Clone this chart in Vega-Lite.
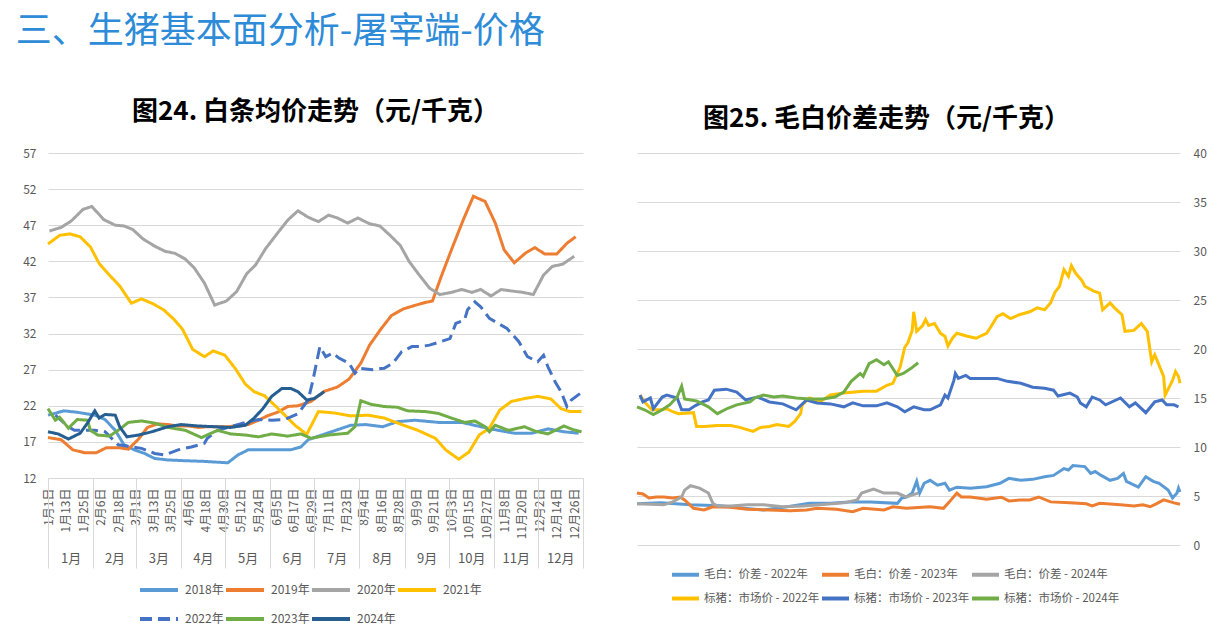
{
"$schema": "https://vega.github.io/schema/vega-lite/v6.json",
"background": "white",
"padding": {"left": 15, "top": 14, "right": 5, "bottom": 0},
"title": {"text": "三、生猪基本面分析-屠宰端-价格", "anchor": "start", "fontSize": 36, "fontWeight": "normal", "color": "#2E8BD7", "font": "Noto Sans CJK SC", "offset": 48, "dx": -7},
"config": {
  "font": "Noto Sans CJK SC",
  "view": {"stroke": null},
  "axis": {"labelColor": "#595959", "labelFontSize": 12, "gridColor": "#D9D9D9", "domainColor": "#D9D9D9", "tickColor": "#D9D9D9", "labelFont": "Noto Sans CJK SC"},
  "legend": {"labelColor": "#595959", "labelFontSize": 12, "labelFont": "Noto Sans CJK SC"}
},
"spacing": 54,
"bounds": "flush",
"resolve": {"scale": {"color": "independent", "strokeDash": "independent"}, "legend": {"color": "independent", "strokeDash": "independent"}},
"datasets": {
"left": [
{"s":"2018年","d":0,"v":20.7},{"s":"2018年","d":11,"v":21.3},{"s":"2018年","d":20,"v":21.1},{"s":"2018年","d":32,"v":20.7},{"s":"2018年","d":39,"v":20.1},{"s":"2018年","d":46,"v":18.6},{"s":"2018年","d":52,"v":16.6},{"s":"2018年","d":59,"v":15.9},{"s":"2018年","d":66,"v":15.4},{"s":"2018年","d":73,"v":14.7},{"s":"2018年","d":82,"v":14.5},{"s":"2018年","d":93,"v":14.4},{"s":"2018年","d":107,"v":14.3},{"s":"2018年","d":123,"v":14.1},{"s":"2018年","d":130,"v":15.2},{"s":"2018年","d":137,"v":15.9},{"s":"2018年","d":146,"v":15.9},{"s":"2018年","d":160,"v":15.9},{"s":"2018年","d":166,"v":15.9},{"s":"2018年","d":173,"v":16.3},{"s":"2018年","d":178,"v":17.3},{"s":"2018年","d":185,"v":17.8},{"s":"2018年","d":194,"v":18.4},{"s":"2018年","d":207,"v":19.3},{"s":"2018年","d":217,"v":19.4},{"s":"2018年","d":229,"v":19.1},{"s":"2018年","d":239,"v":19.8},{"s":"2018年","d":251,"v":20.0},{"s":"2018年","d":267,"v":19.7},{"s":"2018年","d":283,"v":19.7},{"s":"2018年","d":296,"v":19.1},{"s":"2018年","d":308,"v":18.6},{"s":"2018年","d":319,"v":18.2},{"s":"2018年","d":331,"v":18.2},{"s":"2018年","d":342,"v":18.8},{"s":"2018年","d":353,"v":18.4},{"s":"2018年","d":363,"v":18.2},
{"s":"2019年","d":0,"v":17.6},{"s":"2019年","d":9,"v":17.3},{"s":"2019年","d":17,"v":15.9},{"s":"2019年","d":25,"v":15.5},{"s":"2019年","d":33,"v":15.5},{"s":"2019年","d":40,"v":16.2},{"s":"2019年","d":48,"v":16.2},{"s":"2019年","d":55,"v":16.0},{"s":"2019年","d":62,"v":17.4},{"s":"2019年","d":68,"v":19.0},{"s":"2019年","d":75,"v":19.5},{"s":"2019年","d":82,"v":19.4},{"s":"2019年","d":89,"v":19.2},{"s":"2019年","d":96,"v":19.2},{"s":"2019年","d":103,"v":19.0},{"s":"2019年","d":109,"v":19.1},{"s":"2019年","d":123,"v":19.1},{"s":"2019年","d":137,"v":19.4},{"s":"2019年","d":144,"v":20.0},{"s":"2019年","d":150,"v":20.6},{"s":"2019年","d":157,"v":21.1},{"s":"2019年","d":164,"v":21.9},{"s":"2019年","d":171,"v":22.0},{"s":"2019年","d":180,"v":22.6},{"s":"2019年","d":189,"v":24.0},{"s":"2019年","d":198,"v":24.6},{"s":"2019年","d":206,"v":25.7},{"s":"2019年","d":214,"v":27.9},{"s":"2019年","d":220,"v":30.4},{"s":"2019年","d":228,"v":32.7},{"s":"2019年","d":235,"v":34.5},{"s":"2019年","d":243,"v":35.4},{"s":"2019年","d":251,"v":35.9},{"s":"2019年","d":258,"v":36.3},{"s":"2019年","d":263,"v":36.5},{"s":"2019年","d":269,"v":39.9},{"s":"2019年","d":276,"v":43.6},{"s":"2019年","d":284,"v":47.7},{"s":"2019年","d":291,"v":51.0},{"s":"2019年","d":299,"v":50.3},{"s":"2019年","d":306,"v":47.3},{"s":"2019年","d":312,"v":43.6},{"s":"2019年","d":319,"v":41.8},{"s":"2019年","d":327,"v":43.2},{"s":"2019年","d":333,"v":43.9},{"s":"2019年","d":340,"v":43.0},{"s":"2019年","d":348,"v":43.0},{"s":"2019年","d":355,"v":44.5},{"s":"2019年","d":361,"v":45.4},
{"s":"2020年","d":1,"v":46.2},{"s":"2020年","d":9,"v":46.7},{"s":"2020年","d":16,"v":47.6},{"s":"2020年","d":24,"v":49.2},{"s":"2020年","d":30,"v":49.6},{"s":"2020年","d":38,"v":47.8},{"s":"2020年","d":46,"v":47.0},{"s":"2020年","d":52,"v":46.9},{"s":"2020年","d":58,"v":46.4},{"s":"2020年","d":65,"v":45.1},{"s":"2020年","d":73,"v":44.1},{"s":"2020年","d":80,"v":43.4},{"s":"2020年","d":87,"v":43.1},{"s":"2020年","d":94,"v":42.3},{"s":"2020年","d":100,"v":41.1},{"s":"2020年","d":107,"v":39.0},{"s":"2020年","d":114,"v":35.95},{"s":"2020年","d":122,"v":36.5},{"s":"2020年","d":129,"v":37.8},{"s":"2020年","d":136,"v":40.3},{"s":"2020年","d":142,"v":41.5},{"s":"2020年","d":149,"v":43.8},{"s":"2020年","d":157,"v":45.9},{"s":"2020年","d":164,"v":47.7},{"s":"2020年","d":171,"v":49.0},{"s":"2020年","d":178,"v":48.1},{"s":"2020年","d":185,"v":47.5},{"s":"2020年","d":192,"v":48.4},{"s":"2020年","d":198,"v":48.0},{"s":"2020年","d":205,"v":47.3},{"s":"2020年","d":212,"v":48.0},{"s":"2020年","d":220,"v":47.2},{"s":"2020年","d":227,"v":46.9},{"s":"2020年","d":234,"v":45.6},{"s":"2020年","d":241,"v":44.2},{"s":"2020年","d":247,"v":42.0},{"s":"2020年","d":254,"v":40.1},{"s":"2020年","d":261,"v":38.3},{"s":"2020年","d":268,"v":37.4},{"s":"2020年","d":276,"v":37.7},{"s":"2020年","d":283,"v":38.1},{"s":"2020年","d":290,"v":37.7},{"s":"2020年","d":296,"v":38.1},{"s":"2020年","d":303,"v":37.2},{"s":"2020年","d":310,"v":38.1},{"s":"2020年","d":317,"v":37.9},{"s":"2020年","d":325,"v":37.7},{"s":"2020年","d":332,"v":37.4},{"s":"2020年","d":339,"v":40.1},{"s":"2020年","d":345,"v":41.3},{"s":"2020年","d":352,"v":41.6},{"s":"2020年","d":360,"v":42.7},
{"s":"2021年","d":0,"v":44.4},{"s":"2021年","d":8,"v":45.6},{"s":"2021年","d":15,"v":45.8},{"s":"2021年","d":22,"v":45.4},{"s":"2021年","d":29,"v":44.0},{"s":"2021年","d":35,"v":41.7},{"s":"2021年","d":42,"v":40.1},{"s":"2021年","d":49,"v":38.6},{"s":"2021年","d":57,"v":36.2},{"s":"2021年","d":64,"v":36.8},{"s":"2021年","d":72,"v":36.1},{"s":"2021年","d":79,"v":35.3},{"s":"2021年","d":86,"v":34.0},{"s":"2021年","d":92,"v":32.6},{"s":"2021年","d":99,"v":29.8},{"s":"2021年","d":107,"v":28.8},{"s":"2021年","d":113,"v":29.6},{"s":"2021年","d":121,"v":29.0},{"s":"2021年","d":128,"v":27.2},{"s":"2021年","d":135,"v":25.0},{"s":"2021年","d":141,"v":23.95},{"s":"2021年","d":148,"v":23.4},{"s":"2021年","d":155,"v":22.1},{"s":"2021年","d":162,"v":20.7},{"s":"2021年","d":169,"v":19.3},{"s":"2021年","d":177,"v":18.05},{"s":"2021年","d":185,"v":21.2},{"s":"2021年","d":196,"v":21.0},{"s":"2021年","d":207,"v":20.6},{"s":"2021年","d":219,"v":20.7},{"s":"2021年","d":230,"v":20.3},{"s":"2021年","d":242,"v":19.4},{"s":"2021年","d":253,"v":18.6},{"s":"2021年","d":265,"v":17.5},{"s":"2021年","d":272,"v":15.9},{"s":"2021年","d":281,"v":14.6},{"s":"2021年","d":288,"v":15.6},{"s":"2021年","d":295,"v":17.95},{"s":"2021年","d":302,"v":18.9},{"s":"2021年","d":309,"v":21.4},{"s":"2021年","d":317,"v":22.6},{"s":"2021年","d":326,"v":23.0},{"s":"2021年","d":335,"v":23.3},{"s":"2021年","d":344,"v":22.95},{"s":"2021年","d":351,"v":21.6},{"s":"2021年","d":357,"v":21.2},{"s":"2021年","d":365,"v":21.2},
{"s":"2022年","d":5,"v":20.7},{"s":"2022年","d":14,"v":19.1},{"s":"2022年","d":18,"v":18.6},{"s":"2022年","d":32,"v":18.6},{"s":"2022年","d":39,"v":18.4},{"s":"2022年","d":48,"v":16.6},{"s":"2022年","d":64,"v":16.1},{"s":"2022年","d":73,"v":15.4},{"s":"2022年","d":80,"v":15.2},{"s":"2022年","d":89,"v":15.9},{"s":"2022年","d":98,"v":16.3},{"s":"2022年","d":107,"v":16.8},{"s":"2022年","d":109,"v":17.5},{"s":"2022年","d":116,"v":18.6},{"s":"2022年","d":125,"v":19.1},{"s":"2022年","d":135,"v":19.7},{"s":"2022年","d":144,"v":20.1},{"s":"2022年","d":153,"v":20.0},{"s":"2022年","d":162,"v":20.1},{"s":"2022年","d":171,"v":20.9},{"s":"2022年","d":178,"v":22.8},{"s":"2022年","d":181,"v":25.3},{"s":"2022年","d":186,"v":30.2},{"s":"2022年","d":190,"v":28.8},{"s":"2022年","d":195,"v":29.3},{"s":"2022年","d":199,"v":28.6},{"s":"2022年","d":206,"v":27.9},{"s":"2022年","d":210,"v":26.5},{"s":"2022年","d":213,"v":27.2},{"s":"2022年","d":222,"v":27.0},{"s":"2022年","d":230,"v":27.2},{"s":"2022年","d":236,"v":27.9},{"s":"2022年","d":242,"v":29.5},{"s":"2022年","d":249,"v":30.2},{"s":"2022年","d":255,"v":30.2},{"s":"2022年","d":261,"v":30.4},{"s":"2022年","d":269,"v":30.9},{"s":"2022年","d":275,"v":31.3},{"s":"2022年","d":279,"v":33.4},{"s":"2022年","d":285,"v":33.9},{"s":"2022年","d":287,"v":35.3},{"s":"2022年","d":292,"v":36.4},{"s":"2022年","d":296,"v":35.7},{"s":"2022年","d":302,"v":34.1},{"s":"2022年","d":308,"v":33.4},{"s":"2022年","d":314,"v":32.7},{"s":"2022年","d":318,"v":31.8},{"s":"2022年","d":322,"v":30.9},{"s":"2022年","d":328,"v":28.8},{"s":"2022年","d":335,"v":28.1},{"s":"2022年","d":339,"v":29.0},{"s":"2022年","d":342,"v":27.4},{"s":"2022年","d":347,"v":25.3},{"s":"2022年","d":351,"v":23.95},{"s":"2022年","d":355,"v":21.9},{"s":"2022年","d":358,"v":22.8},{"s":"2022年","d":364,"v":23.7},
{"s":"2023年","d":0,"v":21.6},{"s":"2023年","d":5,"v":20.0},{"s":"2023年","d":8,"v":20.4},{"s":"2023年","d":14,"v":18.9},{"s":"2023年","d":20,"v":20.1},{"s":"2023年","d":27,"v":20.0},{"s":"2023年","d":29,"v":18.6},{"s":"2023年","d":34,"v":17.95},{"s":"2023年","d":42,"v":17.8},{"s":"2023年","d":48,"v":18.6},{"s":"2023年","d":55,"v":19.7},{"s":"2023年","d":64,"v":19.9},{"s":"2023年","d":73,"v":19.6},{"s":"2023年","d":82,"v":19.0},{"s":"2023年","d":94,"v":18.6},{"s":"2023年","d":105,"v":17.6},{"s":"2023年","d":116,"v":18.6},{"s":"2023年","d":125,"v":18.1},{"s":"2023年","d":135,"v":17.95},{"s":"2023年","d":144,"v":17.7},{"s":"2023年","d":153,"v":18.1},{"s":"2023年","d":164,"v":17.8},{"s":"2023年","d":173,"v":18.1},{"s":"2023年","d":180,"v":17.5},{"s":"2023年","d":192,"v":17.95},{"s":"2023年","d":205,"v":18.2},{"s":"2023年","d":210,"v":19.1},{"s":"2023年","d":214,"v":22.7},{"s":"2023年","d":221,"v":22.2},{"s":"2023年","d":230,"v":21.9},{"s":"2023年","d":239,"v":21.8},{"s":"2023年","d":246,"v":21.3},{"s":"2023年","d":258,"v":21.2},{"s":"2023年","d":267,"v":20.95},{"s":"2023年","d":276,"v":20.3},{"s":"2023年","d":285,"v":19.7},{"s":"2023年","d":292,"v":19.9},{"s":"2023年","d":299,"v":19.1},{"s":"2023年","d":302,"v":18.4},{"s":"2023年","d":306,"v":19.3},{"s":"2023年","d":315,"v":18.6},{"s":"2023年","d":326,"v":19.1},{"s":"2023年","d":333,"v":18.5},{"s":"2023年","d":342,"v":18.1},{"s":"2023年","d":347,"v":18.6},{"s":"2023年","d":353,"v":19.2},{"s":"2023年","d":359,"v":18.7},{"s":"2023年","d":365,"v":18.4},
{"s":"2024年","d":0,"v":18.4},{"s":"2024年","d":7,"v":18.1},{"s":"2024年","d":14,"v":17.4},{"s":"2024年","d":22,"v":18.2},{"s":"2024年","d":27,"v":19.6},{"s":"2024年","d":32,"v":21.3},{"s":"2024年","d":35,"v":20.3},{"s":"2024年","d":39,"v":20.8},{"s":"2024年","d":46,"v":20.7},{"s":"2024年","d":49,"v":19.1},{"s":"2024年","d":54,"v":17.7},{"s":"2024年","d":62,"v":17.95},{"s":"2024年","d":71,"v":18.4},{"s":"2024年","d":82,"v":19.1},{"s":"2024年","d":91,"v":19.4},{"s":"2024年","d":103,"v":19.2},{"s":"2024年","d":114,"v":19.1},{"s":"2024年","d":125,"v":19.0},{"s":"2024年","d":135,"v":19.3},{"s":"2024年","d":141,"v":20.3},{"s":"2024年","d":147,"v":21.6},{"s":"2024年","d":153,"v":23.3},{"s":"2024年","d":160,"v":24.4},{"s":"2024年","d":166,"v":24.4},{"s":"2024年","d":171,"v":23.95},{"s":"2024年","d":177,"v":22.8},{"s":"2024年","d":182,"v":23.0},{"s":"2024年","d":189,"v":23.95}
],
"right": [
{"k":"毛白：价差 - 2022年","d":0,"v":4.2},{"k":"毛白：价差 - 2022年","d":16,"v":4.3},{"k":"毛白：价差 - 2022年","d":36,"v":4.1},{"k":"毛白：价差 - 2022年","d":56,"v":4.0},{"k":"毛白：价差 - 2022年","d":72,"v":3.74},{"k":"毛白：价差 - 2022年","d":85,"v":3.57},{"k":"毛白：价差 - 2022年","d":101,"v":3.9},{"k":"毛白：价差 - 2022年","d":116,"v":4.25},{"k":"毛白：价差 - 2022年","d":130,"v":4.25},{"k":"毛白：价差 - 2022年","d":143,"v":4.4},{"k":"毛白：价差 - 2022年","d":157,"v":4.4},{"k":"毛白：价差 - 2022年","d":175,"v":4.25},{"k":"毛白：价差 - 2022年","d":178,"v":4.8},{"k":"毛白：价差 - 2022年","d":181,"v":4.9},{"k":"毛白：价差 - 2022年","d":185,"v":5.3},{"k":"毛白：价差 - 2022年","d":188,"v":6.5},{"k":"毛白：价差 - 2022年","d":190,"v":5.3},{"k":"毛白：价差 - 2022年","d":193,"v":6.3},{"k":"毛白：价差 - 2022年","d":197,"v":6.6},{"k":"毛白：价差 - 2022年","d":202,"v":6.1},{"k":"毛白：价差 - 2022年","d":207,"v":6.3},{"k":"毛白：价差 - 2022年","d":210,"v":5.6},{"k":"毛白：价差 - 2022年","d":215,"v":5.9},{"k":"毛白：价差 - 2022年","d":224,"v":5.8},{"k":"毛白：价差 - 2022年","d":235,"v":5.95},{"k":"毛白：价差 - 2022年","d":244,"v":6.3},{"k":"毛白：价差 - 2022年","d":250,"v":6.8},{"k":"毛白：价差 - 2022年","d":258,"v":6.6},{"k":"毛白：价差 - 2022年","d":266,"v":6.7},{"k":"毛白：价差 - 2022年","d":274,"v":6.97},{"k":"毛白：价差 - 2022年","d":280,"v":7.1},{"k":"毛白：价差 - 2022年","d":287,"v":7.8},{"k":"毛白：价差 - 2022年","d":290,"v":7.65},{"k":"毛白：价差 - 2022年","d":293,"v":8.1},{"k":"毛白：价差 - 2022年","d":301,"v":8.0},{"k":"毛白：价差 - 2022年","d":305,"v":7.3},{"k":"毛白：价差 - 2022年","d":308,"v":7.5},{"k":"毛白：价差 - 2022年","d":312,"v":7.1},{"k":"毛白：价差 - 2022年","d":318,"v":6.6},{"k":"毛白：价差 - 2022年","d":323,"v":6.8},{"k":"毛白：价差 - 2022年","d":327,"v":7.3},{"k":"毛白：价差 - 2022年","d":329,"v":6.5},{"k":"毛白：价差 - 2022年","d":337,"v":5.9},{"k":"毛白：价差 - 2022年","d":342,"v":6.97},{"k":"毛白：价差 - 2022年","d":347,"v":6.5},{"k":"毛白：价差 - 2022年","d":351,"v":6.3},{"k":"毛白：价差 - 2022年","d":357,"v":5.6},{"k":"毛白：价差 - 2022年","d":360,"v":4.8},{"k":"毛白：价差 - 2022年","d":363,"v":5.3},{"k":"毛白：价差 - 2022年","d":364,"v":5.8},{"k":"毛白：价差 - 2022年","d":365,"v":5.4},
{"k":"毛白：价差 - 2023年","d":0,"v":5.3},{"k":"毛白：价差 - 2023年","d":4,"v":5.2},{"k":"毛白：价差 - 2023年","d":8,"v":4.8},{"k":"毛白：价差 - 2023年","d":13,"v":4.9},{"k":"毛白：价差 - 2023年","d":18,"v":4.9},{"k":"毛白：价差 - 2023年","d":24,"v":4.8},{"k":"毛白：价差 - 2023年","d":29,"v":4.9},{"k":"毛白：价差 - 2023年","d":32,"v":4.6},{"k":"毛白：价差 - 2023年","d":38,"v":3.74},{"k":"毛白：价差 - 2023年","d":45,"v":3.57},{"k":"毛白：价差 - 2023年","d":51,"v":3.9},{"k":"毛白：价差 - 2023年","d":63,"v":3.84},{"k":"毛白：价差 - 2023年","d":74,"v":3.64},{"k":"毛白：价差 - 2023年","d":89,"v":3.57},{"k":"毛白：价差 - 2023年","d":103,"v":3.5},{"k":"毛白：价差 - 2023年","d":114,"v":3.57},{"k":"毛白：价差 - 2023年","d":121,"v":3.74},{"k":"毛白：价差 - 2023年","d":134,"v":3.64},{"k":"毛白：价差 - 2023年","d":145,"v":3.4},{"k":"毛白：价差 - 2023年","d":152,"v":3.74},{"k":"毛白：价差 - 2023年","d":166,"v":3.57},{"k":"毛白：价差 - 2023年","d":172,"v":3.9},{"k":"毛白：价差 - 2023年","d":181,"v":3.74},{"k":"毛白：价差 - 2023年","d":197,"v":3.9},{"k":"毛白：价差 - 2023年","d":206,"v":3.74},{"k":"毛白：价差 - 2023年","d":210,"v":4.4},{"k":"毛白：价差 - 2023年","d":215,"v":5.3},{"k":"毛白：价差 - 2023年","d":218,"v":4.9},{"k":"毛白：价差 - 2023年","d":224,"v":4.9},{"k":"毛白：价差 - 2023年","d":235,"v":4.66},{"k":"毛白：价差 - 2023年","d":245,"v":4.87},{"k":"毛白：价差 - 2023年","d":250,"v":4.5},{"k":"毛白：价差 - 2023年","d":258,"v":4.6},{"k":"毛白：价差 - 2023年","d":264,"v":4.6},{"k":"毛白：价差 - 2023年","d":270,"v":4.9},{"k":"毛白：价差 - 2023年","d":278,"v":4.4},{"k":"毛白：价差 - 2023年","d":291,"v":4.3},{"k":"毛白：价差 - 2023年","d":302,"v":4.2},{"k":"毛白：价差 - 2023年","d":306,"v":3.98},{"k":"毛白：价差 - 2023年","d":311,"v":4.25},{"k":"毛白：价差 - 2023年","d":325,"v":4.1},{"k":"毛白：价差 - 2023年","d":334,"v":3.98},{"k":"毛白：价差 - 2023年","d":340,"v":4.1},{"k":"毛白：价差 - 2023年","d":345,"v":3.9},{"k":"毛白：价差 - 2023年","d":349,"v":4.2},{"k":"毛白：价差 - 2023年","d":354,"v":4.6},{"k":"毛白：价差 - 2023年","d":361,"v":4.3},{"k":"毛白：价差 - 2023年","d":365,"v":4.15},
{"k":"毛白：价差 - 2024年","d":0,"v":4.2},{"k":"毛白：价差 - 2024年","d":9,"v":4.15},{"k":"毛白：价差 - 2024年","d":18,"v":4.1},{"k":"毛白：价差 - 2024年","d":24,"v":4.4},{"k":"毛白：价差 - 2024年","d":30,"v":4.9},{"k":"毛白：价差 - 2024年","d":32,"v":5.6},{"k":"毛白：价差 - 2024年","d":36,"v":6.05},{"k":"毛白：价差 - 2024年","d":42,"v":5.8},{"k":"毛白：价差 - 2024年","d":48,"v":5.3},{"k":"毛白：价差 - 2024年","d":51,"v":4.25},{"k":"毛白：价差 - 2024年","d":54,"v":3.98},{"k":"毛白：价差 - 2024年","d":63,"v":3.98},{"k":"毛白：价差 - 2024年","d":74,"v":4.1},{"k":"毛白：价差 - 2024年","d":85,"v":4.1},{"k":"毛白：价差 - 2024年","d":98,"v":3.9},{"k":"毛白：价差 - 2024年","d":112,"v":3.98},{"k":"毛白：价差 - 2024年","d":123,"v":4.1},{"k":"毛白：价差 - 2024年","d":139,"v":4.3},{"k":"毛白：价差 - 2024年","d":148,"v":4.6},{"k":"毛白：价差 - 2024年","d":151,"v":5.3},{"k":"毛白：价差 - 2024年","d":159,"v":5.7},{"k":"毛白：价差 - 2024年","d":166,"v":5.3},{"k":"毛白：价差 - 2024年","d":175,"v":5.3},{"k":"毛白：价差 - 2024年","d":181,"v":4.9},{"k":"毛白：价差 - 2024年","d":189,"v":5.3},
{"k":"标猪：市场价 - 2022年","d":2,"v":15.3},{"k":"标猪：市场价 - 2022年","d":5,"v":14.6},{"k":"标猪：市场价 - 2022年","d":10,"v":13.8},{"k":"标猪：市场价 - 2022年","d":16,"v":13.8},{"k":"标猪：市场价 - 2022年","d":20,"v":13.9},{"k":"标猪：市场价 - 2022年","d":24,"v":13.6},{"k":"标猪：市场价 - 2022年","d":28,"v":13.4},{"k":"标猪：市场价 - 2022年","d":38,"v":13.5},{"k":"标猪：市场价 - 2022年","d":40,"v":12.1},{"k":"标猪：市场价 - 2022年","d":45,"v":12.1},{"k":"标猪：市场价 - 2022年","d":54,"v":12.2},{"k":"标猪：市场价 - 2022年","d":63,"v":12.2},{"k":"标猪：市场价 - 2022年","d":69,"v":12.0},{"k":"标猪：市场价 - 2022年","d":78,"v":11.6},{"k":"标猪：市场价 - 2022年","d":83,"v":12.0},{"k":"标猪：市场价 - 2022年","d":89,"v":12.1},{"k":"标猪：市场价 - 2022年","d":94,"v":12.3},{"k":"标猪：市场价 - 2022年","d":102,"v":12.1},{"k":"标猪：市场价 - 2022年","d":106,"v":12.6},{"k":"标猪：市场价 - 2022年","d":110,"v":13.4},{"k":"标猪：市场价 - 2022年","d":111,"v":14.3},{"k":"标猪：市场价 - 2022年","d":116,"v":15.0},{"k":"标猪：市场价 - 2022年","d":123,"v":14.6},{"k":"标猪：市场价 - 2022年","d":130,"v":15.3},{"k":"标猪：市场价 - 2022年","d":139,"v":15.5},{"k":"标猪：市场价 - 2022年","d":152,"v":15.7},{"k":"标猪：市场价 - 2022年","d":161,"v":15.7},{"k":"标猪：市场价 - 2022年","d":168,"v":16.3},{"k":"标猪：市场价 - 2022年","d":172,"v":16.5},{"k":"标猪：市场价 - 2022年","d":177,"v":18.2},{"k":"标猪：市场价 - 2022年","d":180,"v":20.2},{"k":"标猪：市场价 - 2022年","d":182,"v":20.6},{"k":"标猪：市场价 - 2022年","d":185,"v":21.9},{"k":"标猪：市场价 - 2022年","d":186,"v":23.8},{"k":"标猪：市场价 - 2022年","d":188,"v":21.8},{"k":"标猪：市场价 - 2022年","d":192,"v":22.4},{"k":"标猪：市场价 - 2022年","d":194,"v":23.0},{"k":"标猪：市场价 - 2022年","d":196,"v":22.4},{"k":"标猪：市场价 - 2022年","d":200,"v":22.6},{"k":"标猪：市场价 - 2022年","d":204,"v":21.6},{"k":"标猪：市场价 - 2022年","d":207,"v":21.3},{"k":"标猪：市场价 - 2022年","d":209,"v":20.3},{"k":"标猪：市场价 - 2022年","d":212,"v":21.1},{"k":"标猪：市场价 - 2022年","d":215,"v":21.6},{"k":"标猪：市场价 - 2022年","d":222,"v":21.3},{"k":"标猪：市场价 - 2022年","d":228,"v":21.1},{"k":"标猪：市场价 - 2022年","d":232,"v":21.4},{"k":"标猪：市场价 - 2022年","d":235,"v":21.6},{"k":"标猪：市场价 - 2022年","d":238,"v":22.3},{"k":"标猪：市场价 - 2022年","d":242,"v":23.3},{"k":"标猪：市场价 - 2022年","d":246,"v":23.6},{"k":"标猪：市场价 - 2022年","d":251,"v":23.1},{"k":"标猪：市场价 - 2022年","d":257,"v":23.5},{"k":"标猪：市场价 - 2022年","d":264,"v":23.8},{"k":"标猪：市场价 - 2022年","d":269,"v":24.2},{"k":"标猪：市场价 - 2022年","d":274,"v":24.0},{"k":"标猪：市场价 - 2022年","d":278,"v":24.7},{"k":"标猪：市场价 - 2022年","d":281,"v":25.8},{"k":"标猪：市场价 - 2022年","d":284,"v":26.4},{"k":"标猪：市场价 - 2022年","d":287,"v":28.1},{"k":"标猪：市场价 - 2022年","d":290,"v":27.4},{"k":"标猪：市场价 - 2022年","d":292,"v":28.5},{"k":"标猪：市场价 - 2022年","d":295,"v":27.7},{"k":"标猪：市场价 - 2022年","d":299,"v":27.0},{"k":"标猪：市场价 - 2022年","d":301,"v":26.4},{"k":"标猪：市场价 - 2022年","d":307,"v":25.9},{"k":"标猪：市场价 - 2022年","d":311,"v":25.7},{"k":"标猪：市场价 - 2022年","d":313,"v":24.0},{"k":"标猪：市场价 - 2022年","d":318,"v":24.7},{"k":"标猪：市场价 - 2022年","d":321,"v":24.2},{"k":"标猪：市场价 - 2022年","d":326,"v":23.5},{"k":"标猪：市场价 - 2022年","d":328,"v":21.8},{"k":"标猪：市场价 - 2022年","d":334,"v":21.9},{"k":"标猪：市场价 - 2022年","d":339,"v":22.6},{"k":"标猪：市场价 - 2022年","d":343,"v":21.8},{"k":"标猪：市场价 - 2022年","d":346,"v":18.7},{"k":"标猪：市场价 - 2022年","d":348,"v":19.4},{"k":"标猪：市场价 - 2022年","d":350,"v":18.7},{"k":"标猪：市场价 - 2022年","d":354,"v":17.2},{"k":"标猪：市场价 - 2022年","d":355,"v":15.3},{"k":"标猪：市场价 - 2022年","d":360,"v":16.8},{"k":"标猪：市场价 - 2022年","d":362,"v":17.7},{"k":"标猪：市场价 - 2022年","d":364,"v":17.2},{"k":"标猪：市场价 - 2022年","d":365,"v":16.5},
{"k":"标猪：市场价 - 2023年","d":2,"v":15.3},{"k":"标猪：市场价 - 2023年","d":4,"v":14.6},{"k":"标猪：市场价 - 2023年","d":9,"v":15.0},{"k":"标猪：市场价 - 2023年","d":11,"v":13.9},{"k":"标猪：市场价 - 2023年","d":17,"v":15.1},{"k":"标猪：市场价 - 2023年","d":20,"v":15.3},{"k":"标猪：市场价 - 2023年","d":27,"v":15.0},{"k":"标猪：市场价 - 2023年","d":30,"v":13.8},{"k":"标猪：市场价 - 2023年","d":35,"v":13.8},{"k":"标猪：市场价 - 2023年","d":39,"v":14.2},{"k":"标猪：市场价 - 2023年","d":44,"v":14.6},{"k":"标猪：市场价 - 2023年","d":48,"v":14.8},{"k":"标猪：市场价 - 2023年","d":52,"v":15.8},{"k":"标猪：市场价 - 2023年","d":60,"v":15.9},{"k":"标猪：市场价 - 2023年","d":67,"v":15.6},{"k":"标猪：市场价 - 2023年","d":73,"v":14.8},{"k":"标猪：市场价 - 2023年","d":81,"v":15.1},{"k":"标猪：市场价 - 2023年","d":89,"v":14.6},{"k":"标猪：市场价 - 2023年","d":98,"v":14.4},{"k":"标猪：市场价 - 2023年","d":107,"v":13.8},{"k":"标猪：市场价 - 2023年","d":114,"v":14.8},{"k":"标猪：市场价 - 2023年","d":121,"v":14.5},{"k":"标猪：市场价 - 2023年","d":130,"v":14.4},{"k":"标猪：市场价 - 2023年","d":139,"v":14.1},{"k":"标猪：市场价 - 2023年","d":145,"v":14.5},{"k":"标猪：市场价 - 2023年","d":152,"v":14.2},{"k":"标猪：市场价 - 2023年","d":161,"v":14.2},{"k":"标猪：市场价 - 2023年","d":168,"v":14.5},{"k":"标猪：市场价 - 2023年","d":175,"v":14.1},{"k":"标猪：市场价 - 2023年","d":180,"v":13.6},{"k":"标猪：市场价 - 2023年","d":186,"v":14.1},{"k":"标猪：市场价 - 2023年","d":193,"v":13.8},{"k":"标猪：市场价 - 2023年","d":197,"v":13.8},{"k":"标猪：市场价 - 2023年","d":204,"v":14.3},{"k":"标猪：市场价 - 2023年","d":207,"v":15.3},{"k":"标猪：市场价 - 2023年","d":209,"v":15.0},{"k":"标猪：市场价 - 2023年","d":213,"v":16.8},{"k":"标猪：市场价 - 2023年","d":214,"v":17.5},{"k":"标猪：市场价 - 2023年","d":216,"v":17.0},{"k":"标猪：市场价 - 2023年","d":221,"v":17.3},{"k":"标猪：市场价 - 2023年","d":224,"v":17.0},{"k":"标猪：市场价 - 2023年","d":233,"v":17.0},{"k":"标猪：市场价 - 2023年","d":242,"v":17.0},{"k":"标猪：市场价 - 2023年","d":249,"v":16.7},{"k":"标猪：市场价 - 2023年","d":258,"v":16.5},{"k":"标猪：市场价 - 2023年","d":266,"v":16.1},{"k":"标猪：市场价 - 2023年","d":274,"v":16.0},{"k":"标猪：市场价 - 2023年","d":280,"v":15.8},{"k":"标猪：市场价 - 2023年","d":283,"v":15.2},{"k":"标猪：市场价 - 2023年","d":291,"v":15.5},{"k":"标猪：市场价 - 2023年","d":296,"v":15.1},{"k":"标猪：市场价 - 2023年","d":298,"v":14.5},{"k":"标猪：市场价 - 2023年","d":302,"v":14.1},{"k":"标猪：市场价 - 2023年","d":306,"v":15.1},{"k":"标猪：市场价 - 2023年","d":311,"v":14.8},{"k":"标猪：市场价 - 2023年","d":315,"v":14.3},{"k":"标猪：市场价 - 2023年","d":325,"v":15.0},{"k":"标猪：市场价 - 2023年","d":331,"v":14.1},{"k":"标猪：市场价 - 2023年","d":335,"v":14.5},{"k":"标猪：市场价 - 2023年","d":342,"v":13.5},{"k":"标猪：市场价 - 2023年","d":348,"v":14.6},{"k":"标猪：市场价 - 2023年","d":353,"v":14.8},{"k":"标猪：市场价 - 2023年","d":356,"v":14.3},{"k":"标猪：市场价 - 2023年","d":361,"v":14.3},{"k":"标猪：市场价 - 2023年","d":364,"v":14.1},
{"k":"标猪：市场价 - 2024年","d":0,"v":14.1},{"k":"标猪：市场价 - 2024年","d":5,"v":13.8},{"k":"标猪：市场价 - 2024年","d":11,"v":13.3},{"k":"标猪：市场价 - 2024年","d":17,"v":13.8},{"k":"标猪：市场价 - 2024年","d":22,"v":14.3},{"k":"标猪：市场价 - 2024年","d":27,"v":15.1},{"k":"标猪：市场价 - 2024年","d":30,"v":16.2},{"k":"标猪：市场价 - 2024年","d":32,"v":14.9},{"k":"标猪：市场价 - 2024年","d":40,"v":14.7},{"k":"标猪：市场价 - 2024年","d":48,"v":14.1},{"k":"标猪：市场价 - 2024年","d":54,"v":13.4},{"k":"标猪：市场价 - 2024年","d":61,"v":13.95},{"k":"标猪：市场价 - 2024年","d":67,"v":14.3},{"k":"标猪：市场价 - 2024年","d":76,"v":14.6},{"k":"标猪：市场价 - 2024年","d":79,"v":15.0},{"k":"标猪：市场价 - 2024年","d":85,"v":15.3},{"k":"标猪：市场价 - 2024年","d":92,"v":15.1},{"k":"标猪：市场价 - 2024年","d":98,"v":15.2},{"k":"标猪：市场价 - 2024年","d":107,"v":15.0},{"k":"标猪：市场价 - 2024年","d":116,"v":14.9},{"k":"标猪：市场价 - 2024年","d":125,"v":14.9},{"k":"标猪：市场价 - 2024年","d":133,"v":15.1},{"k":"标猪：市场价 - 2024年","d":139,"v":15.6},{"k":"标猪：市场价 - 2024年","d":144,"v":16.7},{"k":"标猪：市场价 - 2024年","d":150,"v":17.5},{"k":"标猪：市场价 - 2024年","d":152,"v":17.2},{"k":"标猪：市场价 - 2024年","d":156,"v":18.5},{"k":"标猪：市场价 - 2024年","d":161,"v":18.9},{"k":"标猪：市场价 - 2024年","d":166,"v":18.4},{"k":"标猪：市场价 - 2024年","d":169,"v":18.7},{"k":"标猪：市场价 - 2024年","d":175,"v":17.3},{"k":"标猪：市场价 - 2024年","d":179,"v":17.5},{"k":"标猪：市场价 - 2024年","d":184,"v":18.0},{"k":"标猪：市场价 - 2024年","d":189,"v":18.6}
]
},
"hconcat": [
{
  "width": 535,
  "height": 325,
  "data": {"name": "left"},
  "title": {"text": "图24. 白条均价走势（元/千克）", "fontSize": 26, "fontWeight": "bold", "color": "#000000", "anchor": "middle", "frame": "group", "dx": 0, "offset": 22},
  "encoding": {
    "y": {"field": "v", "type": "quantitative", "scale": {"domain": [12, 57], "nice": false, "zero": false},
          "axis": {"values": [12,17,22,27,32,37,42,47,52,57], "grid": true, "domain": false, "ticks": false, "title": null, "labelPadding": 12}}
  },
  "layer": [
    {
      "mark": {"type": "line", "strokeWidth": 3},
      "encoding": {
        "x": {"field": "d", "type": "quantitative", "scale": {"domain": [0, 366], "nice": false, "zero": false},
              "axis": {"orient": "bottom", "values": [0,12,24,36,48,60,72,84,96,108,120,132,144,156,168,180,192,204,216,228,240,252,264,276,288,300,312,324,336,348,360],
                       "labelExpr": "['1月1日','1月13日','1月25日','2月6日','2月18日','3月1日','3月13日','3月25日','4月6日','4月18日','4月30日','5月12日','5月24日','6月5日','6月17日','6月29日','7月11日','7月23日','8月4日','8月16日','8月28日','9月9日','9月21日','10月3日','10月15日','10月27日','11月8日','11月20日','12月2日','12月14日','12月26日'][round(datum.value/12)]",
                       "labelAngle": -90, "labelAlign": "right", "labelBaseline": "middle", "labelPadding": 10, "ticks": false, "grid": false, "domain": true, "title": null, "labelOverlap": false, "labelFontSize": 12}},
        "color": {"field": "s", "type": "nominal",
                  "scale": {"domain": ["2018年","2019年","2020年","2021年","2022年","2023年","2024年"], "range": ["#5B9BD5","#ED7D31","#A5A5A5","#FFC000","#4472C4","#70AD47","#255E91"]},
                  "legend": {"title": null, "orient": "none", "legendX": 90, "legendY": 416, "direction": "horizontal", "columns": 4, "symbolType": "stroke", "symbolSize": 1444, "symbolStrokeWidth": 4, "labelOffset": 5, "columnPadding": -12, "rowPadding": -16, "labelFontSize": 12}},
        "strokeDash": {"field": "s", "type": "nominal",
                  "scale": {"domain": ["2018年","2019年","2020年","2021年","2022年","2023年","2024年"], "range": [[1,0],[1,0],[1,0],[1,0],[12,6],[1,0],[1,0]]},
                  "legend": null}
      }
    },
    {
      "mark": {"type": "point", "opacity": 0},
      "encoding": {
        "x": {"field": "d", "type": "quantitative", "scale": {"domain": [0, 366], "nice": false, "zero": false},
              "axis": {"orient": "bottom", "values": [0,31,60,91,121,152,182,213,244,274,305,335,366], "labels": false, "ticks": true, "tickSize": 90, "tickWidth": 1, "domain": false, "grid": false, "title": null}}
      }
    },
    {
      "mark": {"type": "point", "opacity": 0},
      "encoding": {
        "x": {"field": "d", "type": "quantitative", "scale": {"domain": [0, 366], "nice": false, "zero": false},
              "axis": {"orient": "bottom", "values": [15.5,45.5,75.5,106,136.5,167,197.5,228.5,259,289.5,320,350.5],
                       "labelExpr": "['1月','2月','3月','4月','5月','6月','7月','8月','9月','10月','11月','12月'][indexof([15.5,45.5,75.5,106,136.5,167,197.5,228.5,259,289.5,320,350.5], datum.value)]",
                       "ticks": false, "domain": false, "grid": false, "offset": 70, "labelPadding": 4, "title": null, "labelFontSize": 13, "labelOverlap": false}}
      }
    }
  ],
  "resolve": {"axis": {"x": "independent"}}
},
{
  "width": 543,
  "height": 392,
  "data": {"name": "right"},
  "title": {"text": "图25. 毛白价差走势（元/千克）", "fontSize": 26, "fontWeight": "bold", "color": "#000000", "anchor": "middle", "frame": "group", "dx": -22, "offset": 15},
  "mark": {"type": "line", "strokeWidth": 3},
  "encoding": {
    "x": {"field": "d", "type": "quantitative", "scale": {"domain": [0, 365], "nice": false, "zero": false}, "axis": null},
    "y": {"field": "v", "type": "quantitative", "scale": {"domain": [0, 40], "nice": false},
          "axis": {"orient": "right", "values": [0,5,10,15,20,25,30,35,40], "grid": true, "domain": false, "ticks": false, "title": null, "labelPadding": 13}},
    "color": {"field": "k", "type": "nominal",
              "scale": {"domain": ["毛白：价差 - 2022年","毛白：价差 - 2023年","毛白：价差 - 2024年","标猪：市场价 - 2022年","标猪：市场价 - 2023年","标猪：市场价 - 2024年"],
                        "range": ["#5B9BD5","#ED7D31","#A5A5A5","#FFC000","#4472C4","#70AD47"]},
              "legend": {"title": null, "orient": "none", "legendX": 33, "legendY": 406, "direction": "horizontal", "columns": 3, "symbolType": "stroke", "symbolSize": 729, "symbolStrokeWidth": 4, "labelOffset": 3, "columnPadding": -9, "rowPadding": -3, "labelFontSize": 11.5}}
  }
}
]
}
